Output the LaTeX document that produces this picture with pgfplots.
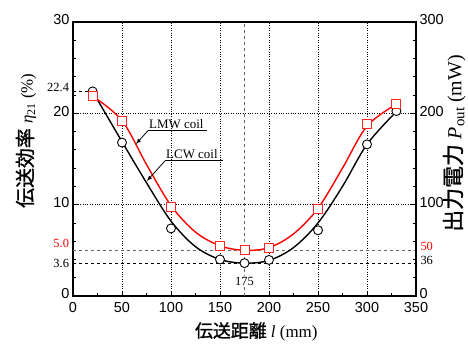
\documentclass[border=0pt]{standalone}
\usepackage{fontspec}
\setmainfont{Liberation Serif}
\newfontfamily\arial{Liberation Sans}
\newfontfamily\cjk[FakeBold=1.2]{Noto Sans CJK JP}
\usepackage{pgfplots}
\pgfplotsset{compat=1.18}

\begin{document}
\begin{tikzpicture}
\path[use as bounding box] (-73bp,-49bp) rectangle (395bp,296bp);
\begin{axis}[
  scale only axis, width=343bp, height=274bp,
  at={(0,0)}, anchor=south west,
  xmin=0, xmax=350, ymin=0, ymax=30,
  xtick={0,50,...,350}, ytick={0,10,20,30},
  minor x tick num=1, minor y tick num=4,
  tick pos=left, tick align=inside,
  grid=major, grid style={dotted, black, line width=0.55bp},
  axis line style={line width=1.4bp},
  major tick length=5bp, minor tick length=3bp,
  every tick/.style={black, line width=0.8bp},
  /pgf/number format/assume math mode=true,
  ticklabel style={font=\arial\fontsize{14.5}{15}\selectfont},
  xticklabel style={yshift=-3bp},
  yticklabel style={yshift=2bp},
  clip=false,
]
% reference lines
\addplot[black, dashed, line width=0.9bp] coordinates {(0,22.4) (20,22.4)};
\addplot[gray!80!black, dashed, line width=1bp] coordinates {(0,5.0) (350,5.0)};
\addplot[black, dashed, line width=1bp] coordinates {(0,3.6) (350,3.6)};
\addplot[gray!80!black, dashed, line width=1.2bp] coordinates {(175,0) (175,30)};

% fitted curves
\addplot[black, line width=1.4bp, smooth, tension=0.55] coordinates {
 (20,22.4) (50,16.9) (75,12.4) (100,8.2) (125,5.4) (150,4.0) (175,3.6)
 (200,3.9) (225,5.3) (250,8.0) (275,12.0) (300,16.6) (330,20.2)};
\addplot[red, line width=1.4bp, smooth, tension=0.55] coordinates {
 (20,21.9) (50,19.2) (75,14.4) (100,9.9) (125,7.0) (150,5.5) (175,5.0)
 (200,5.3) (225,6.8) (250,9.6) (275,14.0) (300,18.6) (330,21.0)};

% measured points
\addplot[only marks, mark=*, mark size=4.5bp, black,
  mark options={fill=white, line width=0.9bp}] coordinates {
 (20,22.4) (50,16.8) (100,7.4) (150,4.0) (175,3.6) (200,3.95)
 (250,7.2) (300,16.6) (330,20.25)};
\addplot[only marks, mark=square*, mark size=4.5bp, red!85!white,
  mark options={fill=white, line width=0.9bp}] coordinates {
 (20,21.9) (50,19.2) (100,9.8) (150,5.5) (175,5.0) (200,5.25)
 (250,9.55) (300,18.8) (330,21.0)};

% value labels
\node[anchor=east, font=\fontsize{12.5}{13}\selectfont] at (axis cs:-0.5,22.8) {22.4};
\node[anchor=east, red, font=\fontsize{12.5}{13}\selectfont] at (axis cs:-0.5,5.7) {5.0};
\node[anchor=east, font=\fontsize{12.5}{13}\selectfont] at (axis cs:-0.5,3.6) {3.6};
\node[anchor=west, red, font=\fontsize{12.5}{13}\selectfont] at (axis cs:351,5.4) {50};
\node[anchor=west, font=\fontsize{12.5}{13}\selectfont] at (axis cs:351,3.9) {36};
\node[fill=white, inner sep=1bp, font=\fontsize{12.5}{13}\selectfont] at (axis cs:175,1.6) {175};

% annotations
\draw[line width=0.8bp] (axis cs:76.5,18.1) -- (axis cs:136.7,18.1);
\draw[-latex, line width=0.8bp] (axis cs:76.5,18.1) -- (axis cs:64.3,16.65);
\node[anchor=south west, inner sep=1bp, font=\fontsize{13}{13}\selectfont] at (axis cs:76.5,18.2) {LMW coil};
\draw[line width=0.8bp] (axis cs:93.9,14.8) -- (axis cs:153,14.8);
\draw[-latex, line width=0.8bp] (axis cs:93.9,14.8) -- (axis cs:75.5,12.6);
\node[anchor=south west, inner sep=1bp, font=\fontsize{13}{13}\selectfont] at (axis cs:93.9,14.9) {LCW coil};

% axis labels
\node[rotate=90, font=\fontsize{17}{17}\selectfont] at (axis cs:-48,17) {{\cjk\fontsize{20}{20}\selectfont 伝送効率} \textit{η}\textsubscript{21} (\%)};
\node[font=\fontsize{17}{17}\selectfont] at (axis cs:187,-3.9) {{\cjk\fontsize{18}{18}\selectfont 伝送距離} \textit{l} (mm)};
\end{axis}
\begin{axis}[
  scale only axis, width=343bp, height=274bp,
  at={(0,0)}, anchor=south west,
  xmin=0, xmax=350, ymin=0, ymax=300,
  axis x line=none, axis y line*=right,
  ytick={0,100,200,300}, minor y tick num=4,
  tick align=inside,
  axis line style={line width=1.4bp, -},
  major tick length=5bp, minor tick length=3bp,
  every tick/.style={black, line width=0.8bp},
  /pgf/number format/assume math mode=true,
  ticklabel style={font=\arial\fontsize{14.5}{15}\selectfont},
  yticklabel style={yshift=2bp},
  clip=false,
]
\node[rotate=90, font=\fontsize{20}{20}\selectfont] at (axis cs:389,167) {{\cjk\fontsize{22}{22}\selectfont 出力電力} \textit{P}{\fontsize{15}{15}\selectfont\raisebox{-3bp}{out}} (mW)};
\end{axis}
\end{tikzpicture}
\end{document}
